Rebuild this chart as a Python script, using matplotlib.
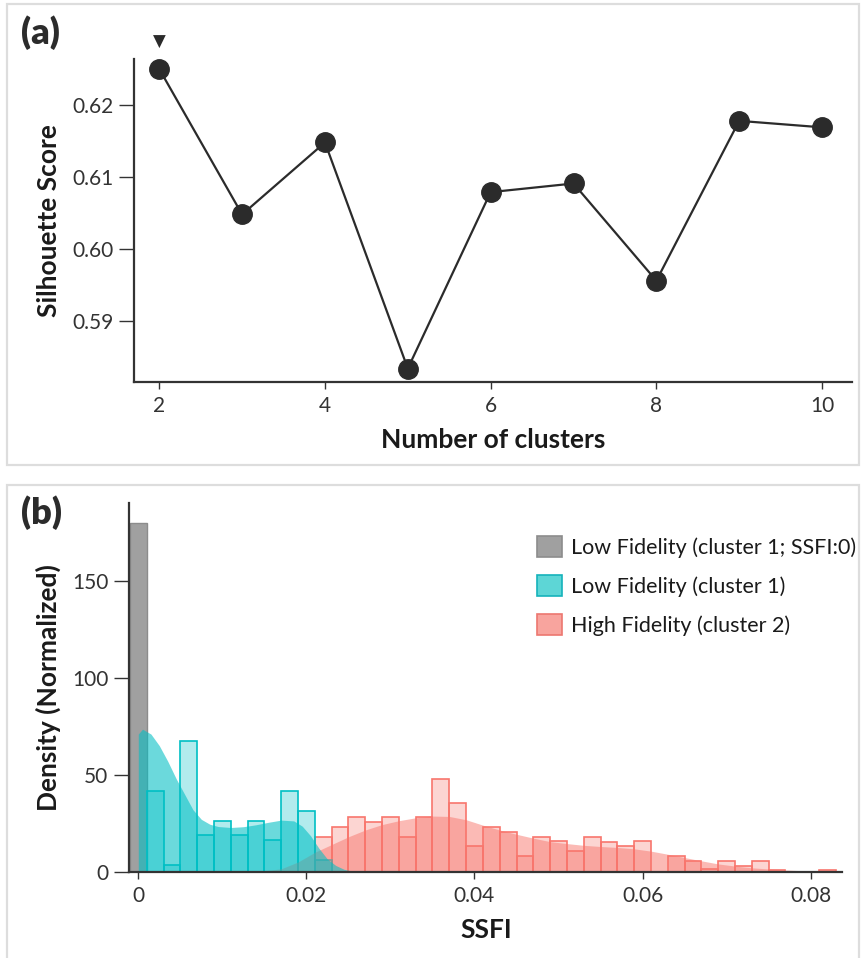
import matplotlib.pyplot as plt
import numpy as np
from matplotlib.patches import Patch, Rectangle

plt.rcParams['font.family'] = ['Lato', 'DejaVu Sans']

# Panel (a): silhouette score vs number of clusters
n_clusters = [2, 3, 4, 5, 6, 7, 8, 9, 10]
silhouette = [0.6250, 0.6048, 0.6148, 0.5834, 0.6079, 0.6091, 0.5956, 0.6178, 0.6169]

# Panel (b): normalised SSFI histograms (bin width 0.002)
bin_width = 0.002
zero_center = 0.0
zero_height = 180.0

low_start = 0.001
low_heights = [41.8, 3.4, 67.5, 19.1, 26.3, 19.1, 26.3, 16.3, 41.8, 31.4, 6.0]

high_start = 0.021
high_heights = [18.0, 22.9, 28.0, 25.4, 28.0, 18.0, 28.0, 47.6, 35.2, 13.1,
                22.9, 20.3, 8.2, 18.0, 15.6, 10.8, 18.0, 15.1, 13.1, 15.6,
                0.0, 8.2, 5.7, 1.4, 5.7, 3.1, 5.7, 0.9, 0.0, 0.0, 1.0]

# density curves
low_kde_x = [0.0, 0.0005, 0.0015, 0.0025, 0.0035, 0.0045, 0.0055, 0.0065, 0.0075,
             0.0085, 0.0095, 0.0110, 0.0125, 0.0140, 0.0155, 0.0170, 0.0185,
             0.0195, 0.0205, 0.0215, 0.0225, 0.0235, 0.0245, 0.0258]
low_kde_y = [71.0, 73.5, 71.0, 65.0, 57.0, 48.0, 40.0, 32.0, 27.0, 24.5, 23.3,
             22.8, 23.2, 24.2, 25.5, 26.6, 26.2, 23.5, 18.5, 12.0, 6.5, 3.2, 1.2, 0.0]

high_kde_x = [0.014, 0.017, 0.019, 0.021, 0.023, 0.025, 0.027, 0.029, 0.031, 0.033,
              0.035, 0.037, 0.039, 0.041, 0.043, 0.045, 0.047, 0.049, 0.051, 0.053,
              0.055, 0.057, 0.059, 0.061, 0.063, 0.065, 0.067, 0.069, 0.071, 0.073,
              0.075, 0.077, 0.079, 0.081, 0.083]
high_kde_y = [0.0, 1.5, 5.0, 10.0, 14.0, 18.0, 21.5, 24.3, 26.3, 27.8, 28.7, 28.5,
              26.8, 24.0, 21.5, 19.3, 17.3, 15.5, 14.5, 13.6, 13.0, 12.5, 11.8, 10.6,
              9.0, 7.3, 5.6, 4.0, 2.9, 2.0, 1.4, 0.9, 0.5, 0.3, 0.1]

legend_labels = ['Low Fidelity (cluster 1; SSFI:0)', 'Low Fidelity (cluster 1)',
                 'High Fidelity (cluster 2)']

teal = '#00BFC4'
red = '#F8766D'
dark = '#333333'

W, H = 864, 958
fig = plt.figure(figsize=(W / 100, H / 100), dpi=100)

# light panel frames
for (x0, y0, x1, y1) in [(7, 4, 859, 465), (7, 485, 859, 975)]:
    fig.patches.append(Rectangle((x0 / W, 1 - y1 / H), (x1 - x0) / W, (y1 - y0) / H,
                                 transform=fig.transFigure, fill=False,
                                 edgecolor='#dddddd', linewidth=1.6, clip_on=False))


def style_axes(ax):
    for s in ['top', 'right']:
        ax.spines[s].set_visible(False)
    for s in ['left', 'bottom']:
        ax.spines[s].set_color(dark)
        ax.spines[s].set_linewidth(1.6)
    ax.tick_params(axis='y', length=11, width=1.0, color=dark, labelsize=15,
                   labelcolor=dark, pad=4)
    ax.tick_params(axis='x', length=5, width=1.0, color=dark, labelsize=15,
                   labelcolor=dark, pad=5)


# ---- panel (a)
ax1 = fig.add_axes([134 / W, 1 - 381.7 / H, (851.7 - 134) / W, (381.7 - 59.3) / H])
ax1.plot(n_clusters, silhouette, color='#2b2b2b', linewidth=1.6, marker='o',
         markersize=14, markerfacecolor='#2b2b2b', markeredgecolor='#2b2b2b', clip_on=False)
best = int(np.argmax(silhouette))
ax1.annotate('▼', xy=(n_clusters[best], silhouette[best]), xytext=(0, 19.5),
             textcoords='offset points', ha='center', va='center', fontsize=12,
             color='#2b2b2b', family='DejaVu Sans', annotation_clip=False)
ax1.set_xlim(1.695, 10.358)
ax1.set_ylim(0.58157, 0.62635)
ax1.set_xticks([2, 4, 6, 8, 10])
ax1.set_yticks([0.59, 0.60, 0.61, 0.62])
ax1.set_yticklabels(['0.59', '0.60', '0.61', '0.62'])
style_axes(ax1)
ax1.set_xlabel('Number of clusters', fontsize=19, fontweight='bold', color='#1a1a1a', labelpad=9)
ax1.set_ylabel('Silhouette Score', fontsize=19, fontweight='bold', color='#1a1a1a', labelpad=8)
fig.text(21 / W, 1 - 33 / H, '(a)', fontsize=26, fontweight='heavy', color='#2b2b2b',
         va='center', ha='left')

# ---- panel (b)
ax2 = fig.add_axes([129.3 / W, 1 - 871.7 / H, (842.3 - 129.3) / W, (871.7 - 503.3) / H])

low_edges = low_start + bin_width * np.arange(len(low_heights) + 1)
high_edges = high_start + bin_width * np.arange(len(high_heights) + 1)

ax2.bar([zero_center], [zero_height], width=bin_width, color='#a0a0a0',
        edgecolor='#8c8c8c', linewidth=1.0, zorder=2)
ax2.hist(high_edges[:-1] + bin_width / 2, bins=high_edges, weights=high_heights,
         facecolor=(0.973, 0.463, 0.427, 0.3), edgecolor=red, linewidth=1.2, zorder=2)
ax2.hist(low_edges[:-1] + bin_width / 2, bins=low_edges, weights=low_heights,
         facecolor=(0.0, 0.75, 0.77, 0.3), edgecolor=teal, linewidth=1.2, zorder=2)
ax2.fill_between(high_kde_x, high_kde_y, color=red, alpha=0.5, linewidth=0, zorder=3)
ax2.fill_between(low_kde_x, low_kde_y, color=teal, alpha=0.58, linewidth=0, zorder=3)

ax2.set_xlim(-0.00107, 0.08376)
ax2.set_ylim(0, 190)
ax2.set_xticks([0, 0.02, 0.04, 0.06, 0.08])
ax2.set_xticklabels(['0', '0.02', '0.04', '0.06', '0.08'])
ax2.set_yticks([0, 50, 100, 150])
style_axes(ax2)
ax2.spines['bottom'].set_zorder(5)
ax2.set_xlabel('SSFI', fontsize=19, fontweight='bold', color='#1a1a1a', labelpad=9)
ax2.set_ylabel('Density (Normalized)', fontsize=19, fontweight='bold', color='#1a1a1a',
               labelpad=8)
fig.text(21 / W, 1 - 513 / H, '(b)', fontsize=26, fontweight='heavy', color='#2b2b2b',
         va='center', ha='left')

handles = [Patch(facecolor='#a0a0a0', edgecolor='#8c8c8c', linewidth=1.2),
           Patch(facecolor='#5dd6d6', edgecolor='#15b3bb', linewidth=1.2),
           Patch(facecolor='#f8a49e', edgecolor='#ec7770', linewidth=1.2)]
ax2.legend(handles, legend_labels, loc='upper left', bbox_to_anchor=(537 / W, 1 - 536 / H),
           bbox_transform=fig.transFigure, frameon=False, fontsize=15.5,
           handlelength=1.15, handleheight=1.15, handletextpad=0.45, labelspacing=0.78,
           borderpad=0, borderaxespad=0, labelcolor='#1a1a1a')

fig.savefig('out.png', dpi=100, facecolor='white')
